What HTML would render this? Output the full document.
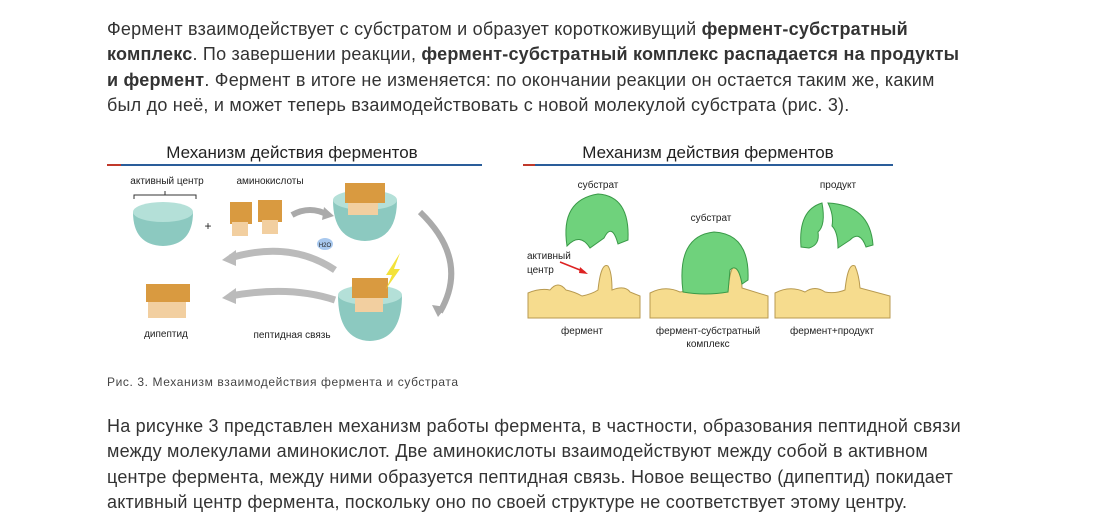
<!DOCTYPE html>
<html><head><meta charset="utf-8"><style>
body{margin:0;background:#fff;width:1094px;height:528px;overflow:hidden;font-family:"Liberation Sans","Noto Sans CJK SC",sans-serif;color:#333;position:relative}
.p{position:absolute;left:107px;width:980px;font-size:18px;letter-spacing:0.22px;line-height:25.4px;white-space:nowrap}
.cap{position:absolute;left:107px;top:375px;font-size:12px;letter-spacing:0.6px;color:#444;white-space:nowrap}
svg{position:absolute;left:0;top:0}
svg text{font-family:"Liberation Sans",sans-serif;fill:#222}
</style></head><body>
<div class="p" style="top:17px">Фермент взаимодействует с субстратом и образует короткоживущий <b>фермент-субстратный</b><br><b>комплекс</b>. По завершении реакции, <b>фермент-субстратный комплекс распадается на продукты</b><br><b>и фермент</b>. Фермент в итоге не изменяется: по окончании реакции он остается таким же, каким<br>был до неё, и может теперь взаимодействовать с новой молекулой субстрата (рис. 3).</div>
<div class="cap">Рис. 3. Механизм взаимодействия фермента и субстрата</div>
<div class="p" style="top:414px">На рисунке 3 представлен механизм работы фермента, в частности, образования пептидной связи<br>между молекулами аминокислот. Две аминокислоты взаимодействуют между собой в активном<br>центре фермента, между ними образуется пептидная связь. Новое вещество (дипептид) покидает<br>активный центр фермента, поскольку оно по своей структуре не соответствует этому центру.</div>
<svg width="1094" height="528">
<!-- left figure -->
<text x="292" y="158" font-size="17" text-anchor="middle">Механизм действия ферментов</text>
<rect x="107" y="164" width="375" height="2" fill="#2a5d9a"/><rect x="107" y="164" width="14" height="2" fill="#c0392b"/>
<text x="167" y="184" font-size="10" text-anchor="middle">активный центр</text>
<path d="M134 199v-4h62v4M165 195v-4" stroke="#333" fill="none"/>
<path d="M133 212 Q133 245 163 246 Q193 245 193 212Z" fill="#8cc9c0"/><ellipse cx="163" cy="212" rx="30" ry="10" fill="#b4e0d8"/>
<text x="208" y="230" font-size="12" text-anchor="middle">+</text>
<text x="270" y="184" font-size="10" text-anchor="middle">аминокислоты</text>
<rect x="230" y="202" width="22" height="22" fill="#d99a40"/><rect x="258" y="200" width="24" height="22" fill="#d99a40"/><rect x="232" y="222" width="16" height="14" fill="#f2cfa0"/><rect x="262" y="220" width="16" height="14" fill="#f2cfa0"/>
<path d="M292 215 Q310 205 328 215" stroke="#aaa" stroke-width="6" fill="none"/><path d="M324 207l10 9-12 4z" fill="#aaa"/>
<path d="M333 200 Q333 240 365 241 Q397 240 397 200Z" fill="#8cc9c0"/><ellipse cx="365" cy="200" rx="32" ry="10" fill="#b4e0d8"/>
<rect x="345" y="183" width="40" height="20" fill="#d99a40"/><rect x="348" y="203" width="30" height="12" fill="#f2cfa0"/>
<ellipse cx="325" cy="244" rx="8" ry="6" fill="#a8c8ee"/><text x="325" y="247" font-size="6" text-anchor="middle">H2O</text>
<path d="M420 212 Q470 260 440 312" stroke="#aaa" stroke-width="6" fill="none"/><path d="M432 305l6 12 8-10z" fill="#aaa"/>
<path d="M338 295 Q338 340 370 341 Q402 340 402 295Z" fill="#8cc9c0"/><ellipse cx="370" cy="295" rx="32" ry="10" fill="#b4e0d8"/>
<rect x="352" y="278" width="36" height="20" fill="#d99a40"/><rect x="355" y="298" width="28" height="14" fill="#f2cfa0"/>
<path d="M400 253l-14 22 6 0-6 14 14-20-6 0z" fill="#f3e23a"/>
<path d="M335 270 Q290 240 230 258" stroke="#bbb" stroke-width="7" fill="none"/><path d="M236 250l-14 10 14 6z" fill="#bbb"/>
<path d="M335 300 Q290 285 230 296" stroke="#bbb" stroke-width="7" fill="none"/><path d="M236 288l-14 10 14 6z" fill="#bbb"/>
<rect x="146" y="284" width="44" height="18" fill="#d99a40"/><rect x="148" y="302" width="38" height="16" fill="#f2cfa0"/>
<text x="166" y="337" font-size="10" text-anchor="middle">дипептид</text>
<text x="292" y="338" font-size="10" text-anchor="middle">пептидная связь</text>
<!-- right figure -->
<text x="708" y="158" font-size="17" text-anchor="middle">Механизм действия ферментов</text>
<rect x="523" y="164" width="370" height="2" fill="#2a5d9a"/><rect x="523" y="164" width="12" height="2" fill="#c0392b"/>
<text x="598" y="188" font-size="10" text-anchor="middle">субстрат</text>
<text x="711" y="221" font-size="10" text-anchor="middle">субстрат</text>
<text x="838" y="188" font-size="10" text-anchor="middle">продукт</text>
<text x="527" y="259" font-size="10">активный</text><text x="527" y="273" font-size="10">центр</text>
<path d="M560 262 L585 272" stroke="#d22" stroke-width="1.5"/><path d="M588 274l-8-7-1 6z" fill="#d22"/>
<g fill="#f6dc8e" stroke="#b89a50">
<path d="M528 318V293 Q540 288 550 290 Q558 280 566 290 Q575 292 582 296 Q592 294 598 290 Q601 262 608 266 Q612 272 612 290 Q625 285 630 292 L640 296 V318Z"/>
<path d="M650 318V293 Q665 285 680 292 Q690 290 705 294 Q718 290 728 292 Q730 262 738 266 Q742 275 742 288 L768 296 V318Z"/>
<path d="M775 318V293 Q790 285 805 292 Q815 285 825 292 Q835 294 845 290 Q848 262 855 266 Q859 275 860 288 L890 296 V318Z"/>
</g>
<g fill="#6fd27c" stroke="#3a9a48">
<path d="M567 246 Q560 200 598 194 Q630 196 628 240 L618 244 Q612 222 604 238 L590 248 Q580 232 567 246Z"/>
<path d="M683 292 Q676 236 714 232 Q750 234 748 280 L742 284 Q738 262 730 270 L728 292 Q705 296 683 292Z"/>
<path d="M801 247 Q798 210 822 203 Q826 225 818 232 Q820 245 809 248Z"/>
<path d="M828 203 Q870 205 873 245 L866 247 Q860 230 850 240 L838 248 Q838 232 832 226 Q834 215 828 203Z"/>
</g>
<text x="582" y="334" font-size="10" text-anchor="middle">фермент</text>
<text x="708" y="334" font-size="10" text-anchor="middle">фермент-субстратный</text>
<text x="708" y="347" font-size="10" text-anchor="middle">комплекс</text>
<text x="832" y="334" font-size="10" text-anchor="middle">фермент+продукт</text>
</svg>
</body></html>
